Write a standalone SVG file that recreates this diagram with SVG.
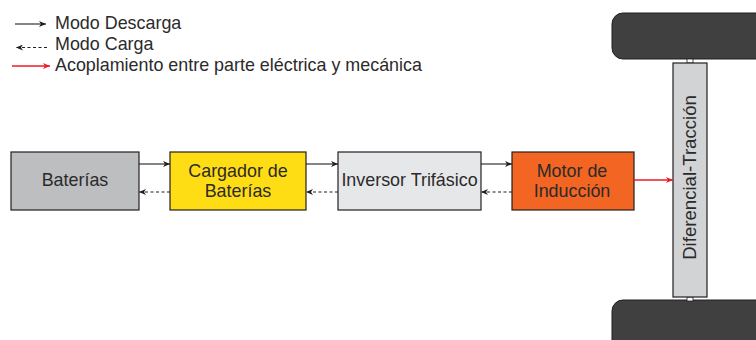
<svg xmlns="http://www.w3.org/2000/svg" width="756" height="340" viewBox="0 0 756 340">
<defs>
<marker id="ah" markerWidth="8" markerHeight="6" refX="7" refY="3" orient="auto" markerUnits="userSpaceOnUse">
<path d="M0,0 L7,3 L0,6 L2,3 Z" fill="#231f20"/>
</marker>
<marker id="ahr" markerWidth="8" markerHeight="6" refX="7" refY="3" orient="auto" markerUnits="userSpaceOnUse">
<path d="M0,0 L7,3 L0,6 L2,3 Z" fill="#ed1c24"/>
</marker>
</defs>
<style>
text{font-family:"Liberation Sans",Arial,sans-serif;font-size:17.9px;fill:#2b2a2b}
.box{stroke:#231f20;stroke-width:1.2}
.solid{stroke:#231f20;stroke-width:1.1;fill:none;marker-end:url(#ah)}
.dash{stroke:#231f20;stroke-width:1.1;fill:none;stroke-dasharray:3,2.5;marker-end:url(#ah)}
.red{stroke:#ed1c24;stroke-width:1.3;fill:none;marker-end:url(#ahr)}
.wheel{fill:#404041;stroke:#231f20;stroke-width:1}
.c{text-anchor:middle}
</style>
<rect width="756" height="340" fill="#ffffff"/>
<g id="legend">
<line class="solid" x1="15" y1="24" x2="46" y2="24"/>
<text x="55" y="28.5">Modo Descarga</text>
<line class="dash" x1="47" y1="47.5" x2="16" y2="47.5"/>
<text x="55" y="50">Modo Carga</text>
<line class="red" x1="12" y1="66" x2="50" y2="66"/>
<text x="55" y="70.5">Acoplamiento entre parte eléctrica y mecánica</text>
</g>
<g id="wheel-top">
<rect class="wheel" x="612" y="13" width="160" height="46" rx="11"/>
<rect x="687" y="59" width="6" height="4" fill="#ffffff" stroke="#231f20" stroke-width="0.8"/>
</g>
<g id="wheel-bottom">
<rect class="wheel" x="612" y="300" width="160" height="60" rx="11"/>
<rect x="687" y="297" width="6" height="4" fill="#ffffff" stroke="#231f20" stroke-width="0.8"/>
</g>
<g id="diferencial">
<rect class="box" x="673" y="63" width="34" height="234" fill="#d1d3d4"/>
<text class="c" transform="translate(696,177.5) rotate(-90)" x="0" y="0" style="font-size:18.6px">Diferencial-Tracción</text>
</g>
<g id="baterias">
<rect class="box" x="11" y="152" width="128" height="58" fill="#bcbec0"/>
<text class="c" x="75" y="186">Baterías</text>
</g>
<g id="cargador">
<rect class="box" x="170" y="152" width="136" height="58" fill="#ffdd15"/>
<text class="c" x="238" y="176.7">Cargador de</text>
<text class="c" x="238" y="196.7">Baterías</text>
</g>
<g id="inversor">
<rect class="box" x="338" y="152" width="143" height="58" fill="#e6e7e8"/>
<text class="c" x="409.5" y="186">Inversor Trifásico</text>
</g>
<g id="motor">
<rect class="box" x="512" y="152" width="122" height="58" fill="#f26522"/>
<text class="c" x="572" y="176.7">Motor de</text>
<text class="c" x="572" y="196.7">Inducción</text>
</g>
<g id="connectors">
<line class="solid" x1="139" y1="164" x2="170" y2="164"/>
<line class="dash" x1="170" y1="192" x2="139" y2="192"/>
<line class="solid" x1="306" y1="164" x2="338" y2="164"/>
<line class="dash" x1="338" y1="192" x2="306" y2="192"/>
<line class="solid" x1="481" y1="164" x2="512" y2="164"/>
<line class="dash" x1="512" y1="192" x2="481" y2="192"/>
<line class="red" x1="634" y1="180" x2="673" y2="180"/>
</g>
</svg>
